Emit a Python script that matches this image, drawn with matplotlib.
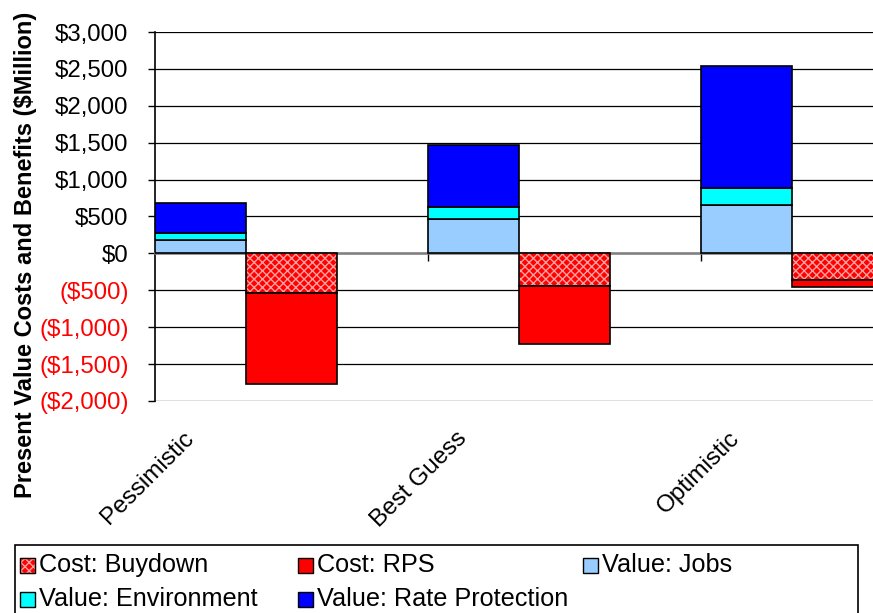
import matplotlib
matplotlib.use("Agg")
import matplotlib.pyplot as plt
import matplotlib.transforms as mtransforms
from matplotlib.patches import Rectangle
from matplotlib.ticker import FuncFormatter, FixedLocator

plt.rcParams['font.family'] = ['Liberation Sans', 'DejaVu Sans']
plt.rcParams['hatch.linewidth'] = 1.0

# --- data ($Million, present value) ---
categories = ["Pessimistic", "Best Guess", "Optimistic"]
jobs = [175, 470, 650]
environment = [95, 155, 235]
rate_protection = [415, 850, 1660]
buydown = [-540, -443, -362]
rps = [-1235, -790, -90]

series_names = ["Cost: Buydown", "Cost: RPS", "Value: Jobs",
                "Value: Environment", "Value: Rate Protection"]

RED = "#FF0000"
JOBS_C = "#99CCFF"
ENV_C = "#00FFFF"
RATE_C = "#0000FF"
HATCH_C = "#FFA0A0"

W, H = 873, 613
fig = plt.figure(figsize=(W / 100, H / 100), dpi=100)
# plot area runs past the right edge of the canvas
ax = fig.add_axes([155 / W, (H - 401) / H, 819 / W, 369 / H])
ax.set_xlim(0, 3)
ax.set_ylim(-2000, 3000)

bw = 1 / 3
xpos = [i + bw / 2 for i in range(len(categories))]
xneg = [i + 1.5 * bw for i in range(len(categories))]
edge = dict(edgecolor="black", linewidth=1.2, zorder=3)

# benefits stacked upward
ax.bar(xpos, jobs, bw, color=JOBS_C, **edge)
env_base = list(jobs)
ax.bar(xpos, environment, bw, bottom=env_base, color=ENV_C, **edge)
rate_base = [j + e for j, e in zip(jobs, environment)]
ax.bar(xpos, rate_protection, bw, bottom=rate_base, color=RATE_C, **edge)

# costs stacked downward, buydown has a pattern fill
ax.bar(xneg, buydown, bw, color=RED, linewidth=0, zorder=3)
ax.bar(xneg, buydown, bw, facecolor="none", edgecolor=HATCH_C, hatch="xxxx",
       linewidth=0, zorder=3)
ax.bar(xneg, buydown, bw, facecolor="none", **edge)
ax.bar(xneg, rps, bw, bottom=buydown, color=RED, **edge)

# axes styling
ax.yaxis.set_major_locator(FixedLocator(range(-2000, 3001, 500)))
ax.yaxis.set_major_formatter(FuncFormatter(
    lambda v, _: f"${v:,.0f}" if v >= 0 else f"(${-v:,.0f})"))
ax.tick_params(axis="y", labelsize=17.3, length=5, width=1, pad=14)
for lbl, v in zip(ax.get_yticklabels(), ax.get_yticks()):
    lbl.set_color(RED if v < 0 else "black")
ax.grid(axis="y", color="black", linewidth=0.9, zorder=0)
ax.set_axisbelow(True)

for s in ("top", "right"):
    ax.spines[s].set_visible(False)
ax.spines["left"].set_linewidth(1.2)
ax.spines["bottom"].set_position(("data", 0))
ax.spines["bottom"].set_color("#808080")
ax.spines["bottom"].set_linewidth(1.8)
ax.set_xticks([1, 2, 3])
ax.set_xticklabels([])
ax.tick_params(axis="x", length=6, width=1, color="black")

trans = mtransforms.blended_transform_factory(ax.transData, ax.transAxes)
for x, name in zip(xpos, categories):
    ax.text(x - 0.037, -0.092, name, transform=trans, rotation=45,
            rotation_mode="anchor", ha="right", va="center", fontsize=17.5)

fig.text(26 / W, 1 - 255 / H, "Present Value Costs and Benefits ($Million)",
         rotation=90, ha="center", va="center", fontsize=17, fontweight="bold")

# legend box along the bottom
fig.add_artist(Rectangle((15 / W, -0.05), (858 - 15) / W, (H - 545) / H + 0.05,
                         transform=fig.transFigure, fill=False,
                         edgecolor="black", linewidth=1.2))
styles = [dict(facecolor=RED, hatch="xxxx"), dict(facecolor=RED),
          dict(facecolor=JOBS_C), dict(facecolor=ENV_C), dict(facecolor=RATE_C)]
slots = [(20, 565), (298, 565), (583, 565), (20, 599), (298, 599)]
for name, st, (px, py) in zip(series_names, styles, slots):
    sq = 15
    r = Rectangle((px / W, 1 - (py + sq / 2) / H), sq / W, sq / H,
                  transform=fig.transFigure, edgecolor="black",
                  linewidth=1, **st)
    if "hatch" in st:
        r.set_edgecolor(HATCH_C)
        fig.add_artist(r)
        r = Rectangle((px / W, 1 - (py + sq / 2) / H), sq / W, sq / H,
                      transform=fig.transFigure, facecolor="none",
                      edgecolor="black", linewidth=1)
    fig.add_artist(r)
    fig.text((px + sq + 4) / W, 1 - py / H, name, ha="left", va="center",
             fontsize=18.2)

fig.savefig("out.png", dpi=100)
